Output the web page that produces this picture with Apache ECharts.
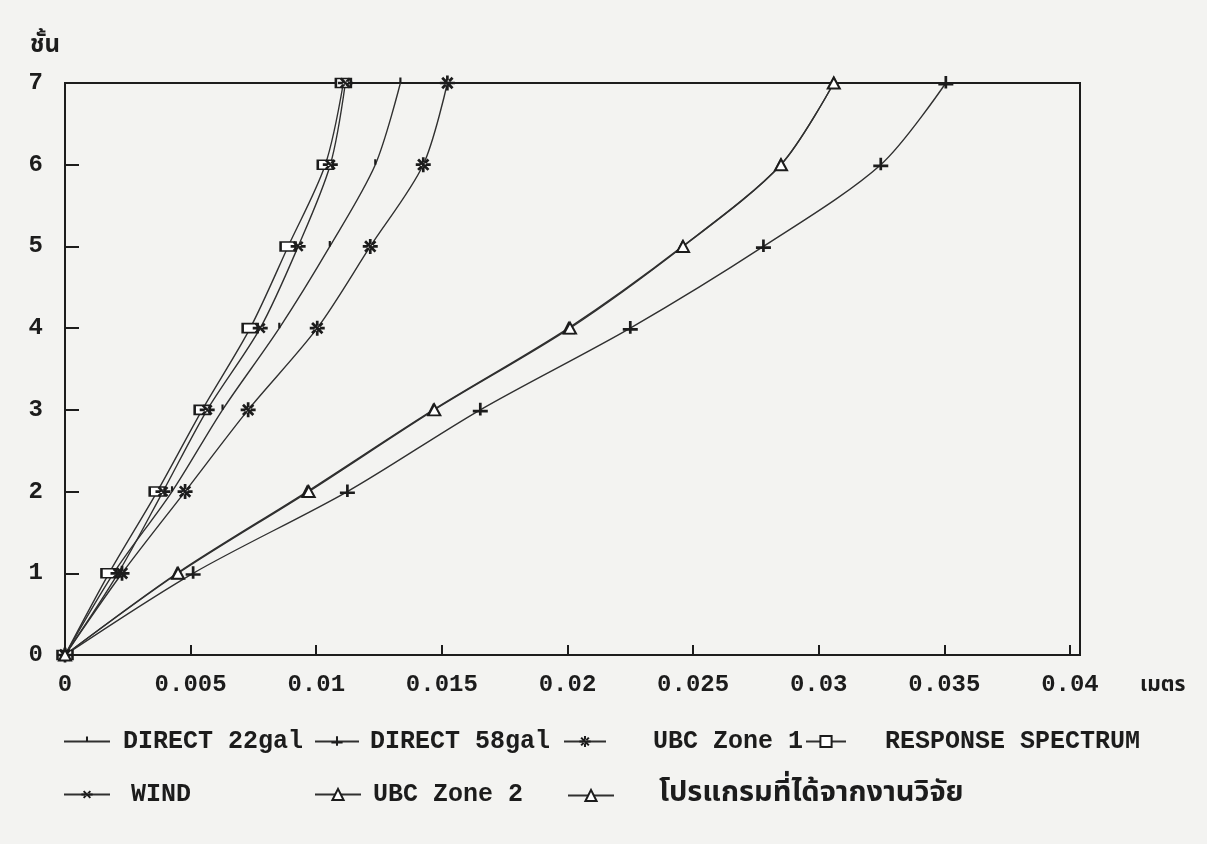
<!DOCTYPE html>
<html>
<head>
<meta charset="utf-8">
<title>Story drift by floor</title>
<script src="https://cdn.jsdelivr.net/npm/echarts@6/dist/echarts.min.js"></script>
<style>
  html, body { margin: 0; padding: 0; background: #f3f3f1; }
  #chart { width: 1207px; height: 844px; }
</style>
</head>
<body>
<div id="chart"></div>
<script>
// Floor levels and lateral displacement (m) at each floor
const floors = [0, 1, 2, 3, 4, 5, 6, 7];
const direct22 = [0, 0.00193, 0.00426, 0.00627, 0.00853, 0.01054, 0.01235, 0.01335];
const direct58 = [0, 0.0051, 0.01124, 0.01653, 0.0225, 0.0278, 0.03247, 0.03506];
const ubcZone1 = [0, 0.00227, 0.00478, 0.00729, 0.01004, 0.01215, 0.01426, 0.01522];
const responseSpectrum = [0, 0.00175, 0.00367, 0.00546, 0.00737, 0.00888, 0.01036, 0.01108];
const wind = [0, 0.00211, 0.0039, 0.00566, 0.00777, 0.00928, 0.01056, 0.01116];
const ubcZone2 = [0, 0.00446, 0.00964, 0.01466, 0.02004, 0.02458, 0.02849, 0.0306];
const researchProgram = [0, 0.0045, 0.0097, 0.0147, 0.0201, 0.0246, 0.0285, 0.0306];

// Tick labels
const xTickLabels = ['0', '0.005', '0.01', '0.015', '0.02', '0.025', '0.03', '0.035', '0.04'];
const yTickLabels = ['0', '1', '2', '3', '4', '5', '6', '7'];
const seriesNames = ['DIRECT 22gal', 'DIRECT 58gal', 'UBC Zone 1', 'RESPONSE SPECTRUM', 'WIND', 'UBC Zone 2', 'โปรแกรมที่ได้จากงานวิจัย'];

const INK = '#1c1c1c';
const LATIN = '"Liberation Mono", "DejaVu Sans Mono", monospace';
const THAI = '"Noto Sans Thai", "Noto Serif Thai", "Loma", "Garuda", "Norasi", "Tlwg Typo", "DejaVu Sans", sans-serif';

// Marker glyphs; the specks at the corners keep every glyph's box square
const BOX = 'M0,0h0.01v0.01h-0.01z M9.99,9.99h0.01v0.01h-0.01z ';
const SYM_TICK = 'path://' + BOX + 'M4.1,0.5h1.8v4.5h-1.8z';
const SYM_PLUS = 'path://' + BOX + 'M0,4.9h10v1.8h-10z M4.1,0.3h1.8v8.4h-1.8z';
const SYM_STAR = 'path://' + BOX + 'M0,4.1h10v1.8h-10z M4.1,0h1.8v10h-1.8z M0.9,2.2l1.3-1.3l6.9,6.9l-1.3,1.3z M9.1,2.2l-1.3-1.3l-6.9,6.9l1.3,1.3z';
const SYM_WIND = 'path://' + BOX + 'M1.4,2.6l1.2-1.2l6,6l-1.2,1.2z M8.6,2.6l-1.2-1.2l-6,6l1.2,1.2z M0,4.1h10v1.8h-10z';

function pairs(xs) {
  return xs.map((x, i) => [x, floors[i]]);
}

// Filled glyphs get no outline; hollow ones are drawn by their outline
function lineSeries(name, xs, symbol, size, hollow) {
  return {
    name: name,
    type: 'line',
    data: pairs(xs),
    smooth: 0.3,
    symbol: symbol,
    symbolSize: size,
    showAllSymbol: true,
    lineStyle: { color: '#303030', width: 1.4 },
    itemStyle: { color: INK, borderColor: INK, borderWidth: hollow ? 1.6 : 0 },
    emphasis: { disabled: true },
    z: 3
  };
}

// One legend block per entry so each sits where the printed key places it
const legendSpots = [
  { left: 63, top: 729, w: 46, gap: 8 },
  { left: 314, top: 729, w: 44, gap: 6 },
  { left: 563, top: 729, w: 42, gap: 42 },
  { left: 805, top: 729, w: 40, gap: 34 },
  { left: 63, top: 782, w: 46, gap: 16 },
  { left: 314, top: 782, w: 46, gap: 7 },
  { left: 567, top: 781, w: 46, gap: 40 }
];

const legends = seriesNames.map((name, i) => ({
  data: [name],
  left: legendSpots[i].left,
  top: legendSpots[i].top,
  orient: 'horizontal',
  itemWidth: legendSpots[i].w,
  itemHeight: 14,
  selectedMode: false,
  padding: 0,
  textStyle: {
    color: INK,
    fontFamily: i === 6 ? THAI : LATIN,
    fontWeight: 'bold',
    fontSize: i === 6 ? 29 : 25,
    padding: [0, 0, 0, legendSpots[i].gap]
  }
}));

const chart = echarts.init(document.getElementById('chart'), null, { renderer: 'canvas' });

chart.setOption({
  backgroundColor: '#f3f3f1',
  animation: false,
  grid: {
    left: 65, right: 127, top: 83, bottom: 189,
    show: true, borderColor: INK, borderWidth: 2, backgroundColor: 'transparent'
  },
  legend: legends,
  xAxis: {
    type: 'value',
    min: 0,
    max: 0.0404,
    interval: 0.005,
    name: 'เมตร',
    nameLocation: 'end',
    nameGap: 60,
    nameTextStyle: {
      color: INK, fontFamily: THAI, fontWeight: 'bold', fontSize: 21,
      verticalAlign: 'top', padding: [21, 0, 0, 0]
    },
    axisLine: { show: true, lineStyle: { color: INK, width: 2 } },
    axisTick: { show: true, inside: true, length: 10, lineStyle: { color: INK, width: 2 } },
    axisLabel: {
      color: INK, fontFamily: LATIN, fontWeight: 'bold', fontSize: 24, margin: 18,
      showMaxLabel: false,
      formatter: function (v) {
        const idx = Math.round(v / 0.005);
        if (Math.abs(v - idx * 0.005) > 1e-9) return '';
        return xTickLabels[idx] || '';
      }
    },
    splitLine: { show: false }
  },
  yAxis: {
    type: 'value',
    min: 0,
    max: 7,
    interval: 1,
    name: 'ชั้น',
    nameLocation: 'end',
    nameGap: 24,
    nameTextStyle: {
      color: INK, fontFamily: THAI, fontWeight: 'bold', fontSize: 24,
      padding: [0, 40, 0, 0]
    },
    axisLine: { show: true, lineStyle: { color: INK, width: 2 } },
    axisTick: { show: true, inside: true, length: 14, lineStyle: { color: INK, width: 2 } },
    axisLabel: {
      color: INK, fontFamily: LATIN, fontWeight: 'bold', fontSize: 24, margin: 22,
      formatter: function (v) { return yTickLabels[Math.round(v)]; }
    },
    splitLine: { show: false }
  },
  series: [
    lineSeries(seriesNames[0], direct22, SYM_TICK, 12, false),
    lineSeries(seriesNames[1], direct58, SYM_PLUS, 15, false),
    lineSeries(seriesNames[2], ubcZone1, SYM_STAR, 15, false),
    lineSeries(seriesNames[3], responseSpectrum, 'emptyRect', [15, 9], true),
    lineSeries(seriesNames[4], wind, SYM_WIND, 15, false),
    lineSeries(seriesNames[5], ubcZone2, 'emptyTriangle', [10, 10], true),
    lineSeries(seriesNames[6], researchProgram, 'emptyTriangle', [12, 11], true)
  ]
});
</script>
</body>
</html>
